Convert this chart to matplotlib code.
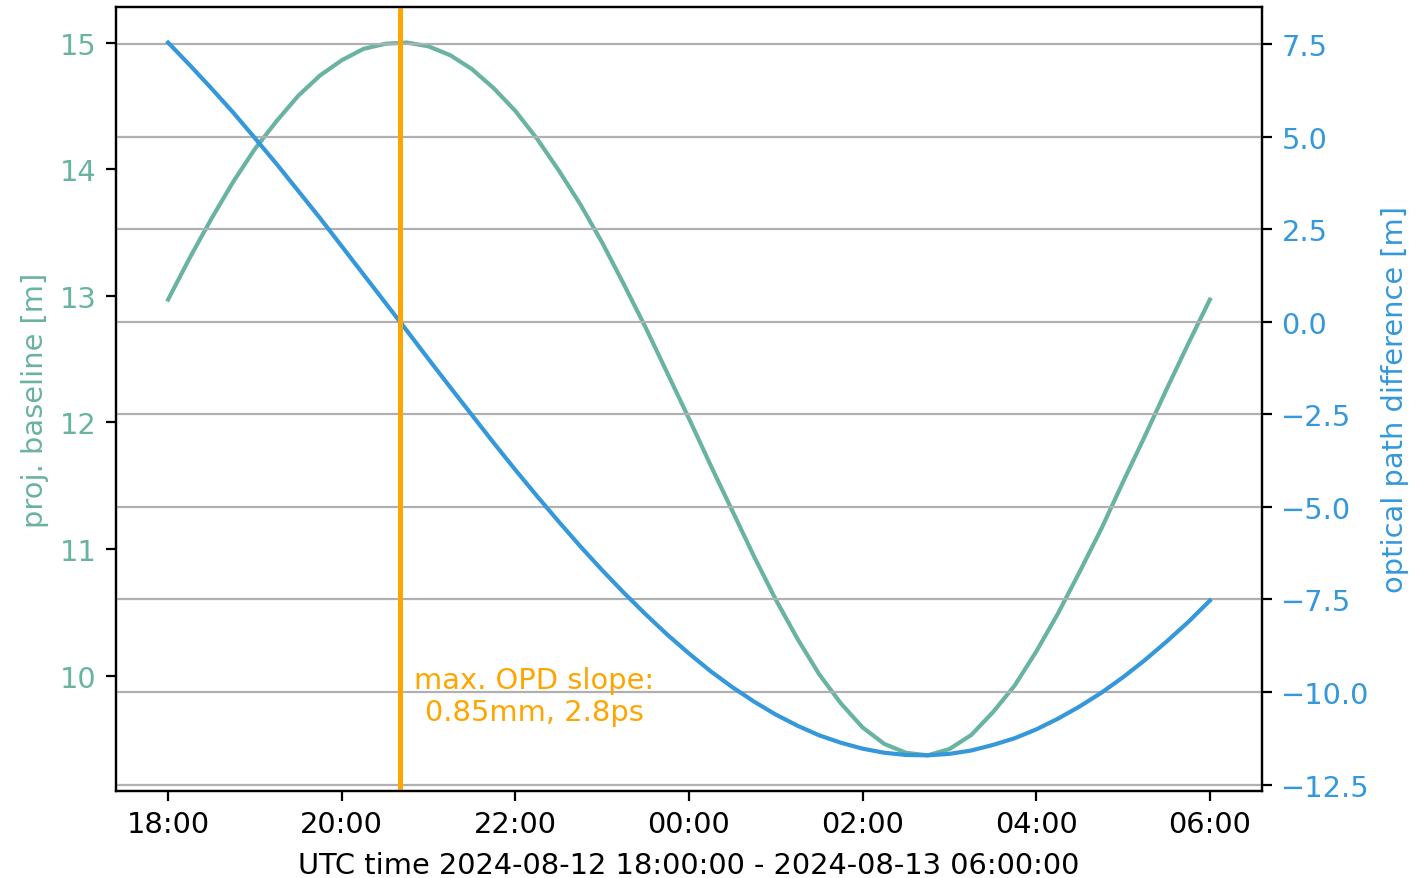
import numpy as np
import pandas as pd
import matplotlib
matplotlib.use('Agg')
import matplotlib.pyplot as plt
import matplotlib.dates as mdates

plt.rcParams['font.size'] = 10.4

# 15-minute samples, 2024-08-12 18:00 -> 2024-08-13 06:00
times = pd.date_range('2024-08-12 18:00', '2024-08-13 06:00', freq='15min')

baseline = [12.97, 13.30, 13.61, 13.90, 14.16, 14.38, 14.58, 14.74, 14.86,
            14.95, 14.99, 15.00, 14.97, 14.90, 14.79, 14.64, 14.46, 14.24,
            13.99, 13.72, 13.42, 13.09, 12.75, 12.39, 12.03, 11.66, 11.30,
            10.94, 10.60, 10.29, 10.01, 9.78, 9.59, 9.46, 9.39, 9.37,
            9.42, 9.53, 9.71, 9.92, 10.19, 10.49, 10.82, 11.16, 11.53,
            11.89, 12.26, 12.62, 12.97]

opd = [7.54, 6.93, 6.30, 5.65, 4.96, 4.26, 3.53, 2.80, 2.04,
       1.28, 0.52, -0.24, -1.01, -1.77, -2.52, -3.27, -4.00, -4.71,
       -5.40, -6.07, -6.71, -7.32, -7.90, -8.45, -8.96, -9.44, -9.87,
       -10.26, -10.61, -10.91, -11.17, -11.37, -11.53, -11.64, -11.70, -11.71,
       -11.67, -11.58, -11.43, -11.25, -11.01, -10.72, -10.39, -10.02, -9.60,
       -9.14, -8.64, -8.11, -7.53]

max_slope_time = pd.Timestamp('2024-08-12 20:40:30')
label_time = pd.Timestamp('2024-08-12 22:13:00')

c_base = '#69b3a2'
c_opd = '#3498db'
c_mark = 'orange'

fig, ax = plt.subplots(figsize=(7.125, 4.395), dpi=200)
fig.subplots_adjust(left=0.0814, right=0.8856, top=0.991, bottom=0.099)

ax.plot(times, baseline, color=c_base, lw=1.5)
ax.set_ylabel('proj. baseline [m]', color=c_base)
ax.tick_params(axis='y', labelcolor=c_base)
ax.set_xlabel('UTC time 2024-08-12 18:00:00 - 2024-08-13 06:00:00', labelpad=4.5)
ax.xaxis.set_major_formatter(mdates.DateFormatter('%H:%M'))
ax.xaxis.set_major_locator(mdates.HourLocator(interval=2))

ax2 = ax.twinx()
ax2.plot(times, opd, color=c_opd, lw=1.5)
ax2.set_ylabel('optical path difference [m]', color=c_opd)
ax2.tick_params(axis='y', labelcolor=c_opd)
ax2.grid(axis='y', color='#b0b0b0')
ax2.set_yticks(np.arange(-12.5, 7.6, 2.5))

ax2.axvline(max_slope_time, color=c_mark, lw=1.8)
ax2.text(label_time, 0.121, 'max. OPD slope:\n0.85mm, 2.8ps', color=c_mark,
         ha='center', va='center', transform=ax2.get_xaxis_transform())

fig.savefig('out.png', dpi=200)
